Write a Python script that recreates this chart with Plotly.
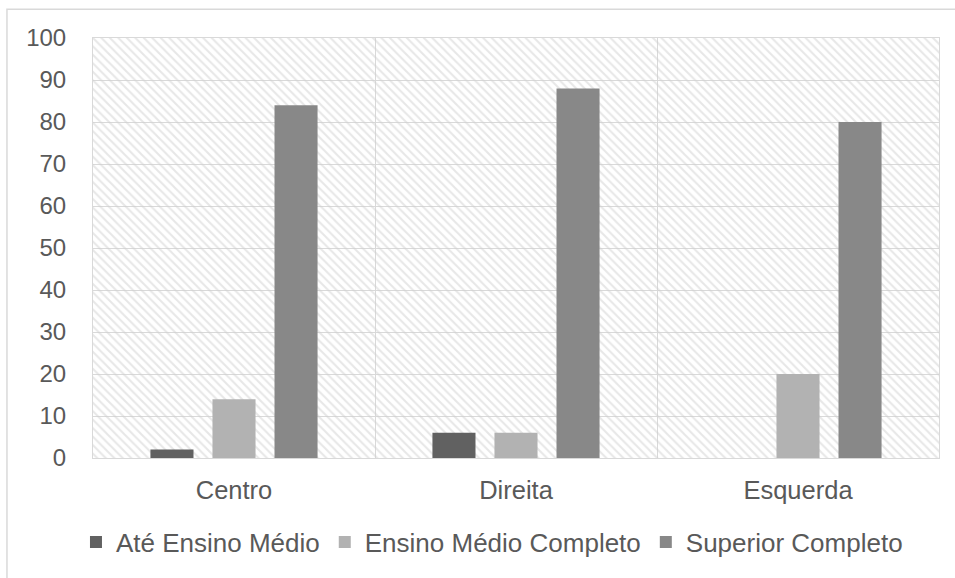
import plotly.graph_objects as go

categories = ["Centro", "Direita", "Esquerda"]
series_names = ["Até Ensino Médio", "Ensino Médio Completo", "Superior Completo"]
ate_medio = [2, 6, 0]
medio_completo = [14, 6, 20]
superior = [84, 88, 80]
y_ticks = list(range(0, 101, 10))

colors = ["#616161", "#b2b2b2", "#888888"]
values = [ate_medio, medio_completo, superior]
txt = "#595959"
grid = "#d9d9d9"

fig = go.Figure()

# hatched plot-area background (decoration) on hidden linear axis
fig.add_trace(go.Scatter(
    x=[0, 1, 1, 0, 0], y=[0, 0, 100, 100, 0], xaxis="x", yaxis="y",
    mode="lines", line=dict(width=0), fill="toself",
    fillcolor="rgba(0,0,0,0)",
    fillpattern=dict(shape="\\", size=6, solidity=0.35, fgcolor="#d0d0d0",
                     bgcolor="rgba(0,0,0,0)"),
    showlegend=False, hoverinfo="skip"))

for name, vals, col in zip(series_names, values, colors):
    fig.add_trace(go.Bar(name=name, x=categories, y=vals, xaxis="x2", yaxis="y",
                         marker=dict(color=col, line=dict(width=0))))

fig.update_layout(
    width=955, height=578,
    margin=dict(l=93, r=16, t=38, b=118),
    paper_bgcolor="white", plot_bgcolor="white",
    font=dict(family="Liberation Sans, Arial, sans-serif", size=24, color=txt),
    barmode="group", bargap=0.34, bargroupgap=0.306,
    xaxis=dict(type="linear", range=[0, 1], showgrid=True, dtick=1/3, tick0=0,
               gridcolor=grid, gridwidth=1, showticklabels=False, zeroline=False,
               showline=True, mirror=True, linecolor=grid, linewidth=1, ticks=""),
    xaxis2=dict(type="category", overlaying="x", side="bottom", showgrid=False,
                showline=False, ticks="", tickfont=dict(size=25.5, color=txt),
                ticklabelstandoff=14),
    yaxis=dict(range=[0, 100], tickvals=y_ticks, showgrid=True, gridcolor=grid,
               gridwidth=1, zeroline=False, showline=True, mirror=True, linecolor=grid,
               ticks="", tickfont=dict(size=24, color=txt), ticklabelstandoff=21),
    legend=dict(orientation="h", x=0.4716, xanchor="center", y=-0.2, yanchor="middle",
                font=dict(size=26, color=txt), traceorder="normal"),
    shapes=[dict(type="rect", xref="paper", yref="paper",
                 x0=-0.1017, x1=1.04, y0=-0.35, y1=1.0687,
                 line=dict(color=grid, width=1.5), fillcolor="rgba(0,0,0,0)", layer="below")],
)

fig.write_html("out.html")
